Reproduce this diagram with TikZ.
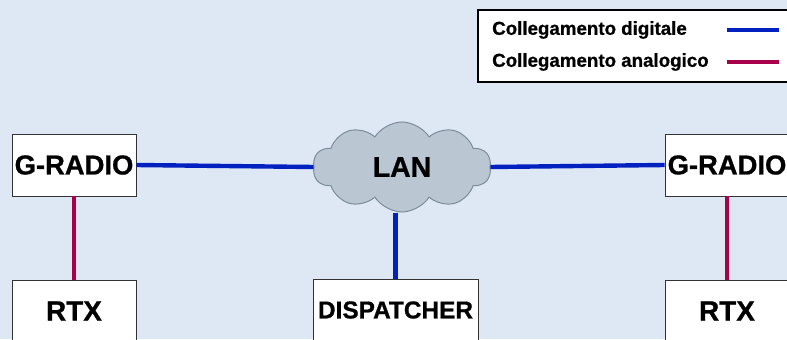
\documentclass[tikz,border=0pt]{standalone}
\usepackage{fontspec}
\setmainfont[BoldFeatures={FakeBold=0.8}]{Liberation Sans}
\usetikzlibrary{shapes.symbols}
\definecolor{sfondo}{HTML}{DDE8F4}
\definecolor{digitale}{HTML}{0020C0}
\definecolor{analogico}{HTML}{A8004A}
\definecolor{nuvola}{HTML}{BAC6D2}
\definecolor{bordo}{HTML}{7C8C9C}
\begin{document}
\begin{tikzpicture}[x=1bp,y=1bp,
  box/.style={draw=black!80,fill=white,line width=0.8bp,minimum width=124bp,minimum height=62bp,inner sep=0pt},
  dig/.style={draw=digitale,line width=4.4bp},
  ana/.style={draw=analogico,line width=4.4bp},
  etichetta/.style={font=\bfseries\fontsize{18.8}{22}\selectfont,anchor=west,inner sep=0pt}]
\fill[sfondo] (0,0) rectangle (787,339);
\useasboundingbox (0,0) rectangle (787,339);
% legenda
\draw[black,line width=1.4bp,fill=white] (478,257) rectangle (792,329);
\node[etichetta] (ldig) at (492,309) {Collegamento digitale};
\node[etichetta] (lana) at (492,277) {Collegamento analogico};
\coordinate (d1) at (727,309);
\coordinate (d2) at (779,309);
\coordinate (a1) at (727,277);
\coordinate (a2) at (779,277);
\draw[dig] (d1) -- (d2);
\draw[ana] (a1) -- (a2);
% rete
\node[cloud,cloud puffs=10,cloud puff arc=115,aspect=2,draw=bordo,fill=nuvola,line width=1bp,
  minimum width=178bp,minimum height=90bp,inner sep=0pt] (lan) at (402,172) {};
\node[box] (gl) at (74,174) {};
\node[box] (gr) at (727,174) {};
\node[box] (rl) at (74,28) {};
\node[box] (rr) at (727,28) {};
\node[box,minimum width=165bp] (disp) at (395.5,29) {};
\draw[dig] (gl.east) -- (lan.west);
\draw[dig] (lan.east) -- (gr.west);
\draw[dig] (disp.north |- lan.south) -- (disp.north);
\draw[ana] (gl.south) -- (rl.north);
\draw[ana] (gr.south) -- (rr.north);
\node[font=\bfseries\fontsize{28.5}{32}\selectfont] at (lan.center) {LAN};
\node[font=\bfseries\fontsize{27.5}{32}\selectfont] at (gl.center) {G-RADIO};
\node[font=\bfseries\fontsize{27.5}{32}\selectfont] at (gr.center) {G-RADIO};
\node[font=\bfseries\fontsize{28}{32}\selectfont] at (rl.center) {RTX};
\node[font=\bfseries\fontsize{28}{32}\selectfont] at (rr.center) {RTX};
\node[font=\bfseries\fontsize{24.5}{28}\selectfont] at (disp.center) {DISPATCHER};
\end{tikzpicture}
\end{document}
